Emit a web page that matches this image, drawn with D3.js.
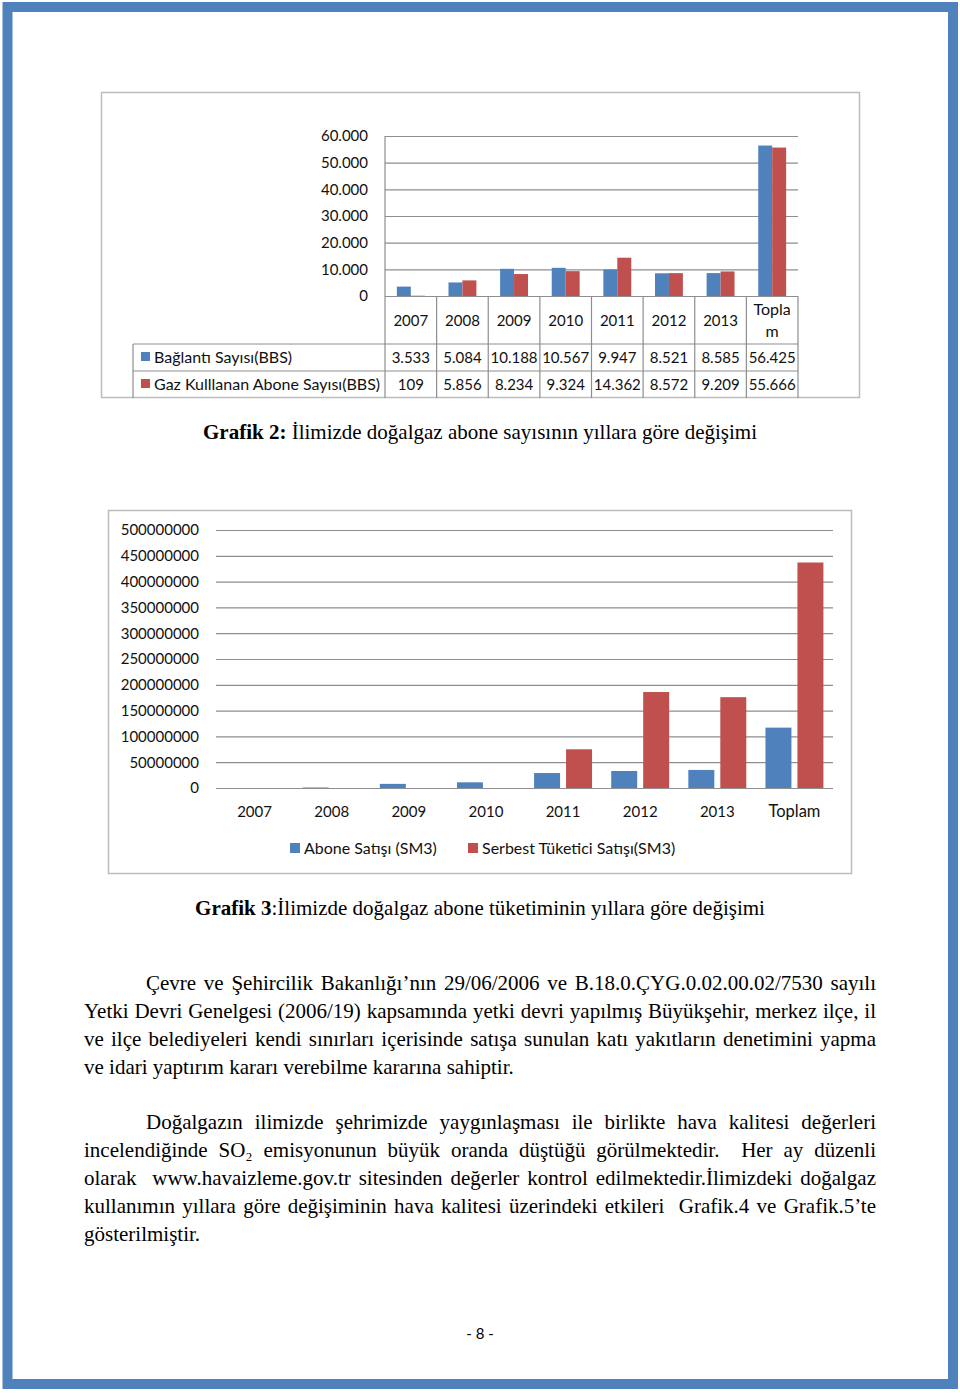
<!DOCTYPE html>
<html><head><meta charset="utf-8">
<script src="https://cdn.jsdelivr.net/npm/d3@7"></script>
<style>
body{margin:0;background:#fff}
svg{display:block}
.sans{font-family:Lato,"Open Sans",sans-serif}
.serif{font-family:"Liberation Serif","Times New Roman",serif}
</style></head>
<body>
<svg id="page" width="960" height="1396"></svg>
<script>
// ---------- DATA ----------
const categories1 = ["2007","2008","2009","2010","2011","2012","2013","Toplam"];
const seriesNames1 = ["Bağlantı Sayısı(BBS)","Gaz Kulllanan Abone Sayısı(BBS)"];
const baglantiSayisi = [3533,5084,10188,10567,9947,8521,8585,56425];
const gazKullananAbone = [109,5856,8234,9324,14362,8572,9209,55666];
const ticks1 = [0,10000,20000,30000,40000,50000,60000];

const categories2 = ["2007","2008","2009","2010","2011","2012","2013","Toplam"];
const seriesNames2 = ["Abone Satışı (SM3)","Serbest Tüketici Satışı(SM3)"];
const aboneSatisi = [0,1000000,8000000,11000000,29000000,33000000,35000000,117000000];
const serbestSatisi = [0,0,0,0,75000000,186000000,176000000,437000000];
const ticks2 = [0,50000000,100000000,150000000,200000000,250000000,300000000,350000000,400000000,450000000,500000000];

const caption1Bold = "Grafik 2:";
const caption1Rest = " İlimizde doğalgaz abone sayısının yıllara göre değişimi";
const caption2Bold = "Grafik 3";
const caption2Rest = ":İlimizde doğalgaz abone tüketiminin yıllara göre değişimi";

const para1 = [
 "Çevre ve Şehircilik Bakanlığı’nın 29/06/2006 ve B.18.0.ÇYG.0.02.00.02/7530 sayılı",
 "Yetki Devri Genelgesi (2006/19) kapsamında yetki devri yapılmış Büyükşehir, merkez ilçe, il",
 "ve ilçe belediyeleri kendi sınırları içerisinde satışa sunulan katı yakıtların denetimini yapma",
 "ve idari yaptırım kararı verebilme kararına sahiptir."
];
const para2 = [
 "Doğalgazın ilimizde şehrimizde yaygınlaşması ile birlikte hava kalitesi değerleri",
 "incelendiğinde SO₂ emisyonunun büyük oranda düştüğü görülmektedir.  Her ay düzenli",
 "olarak  www.havaizleme.gov.tr sitesinden değerler kontrol edilmektedir.İlimizdeki doğalgaz",
 "kullanımın yıllara göre değişiminin hava kalitesi üzerindeki etkileri  Grafik.4 ve Grafik.5’te",
 "gösterilmiştir."
];
const pageNumber = "- 8 -";

// ---------- STYLE ----------
const BLUE = "#4F81BD", RED = "#C0504D", GRID = "#8E8E8E", BOX = "#BDBDBD", TXT = "#111";
const svg = d3.select("#page");
const trFmt = d3.formatLocale({decimal:",", thousands:".", grouping:[3], currency:["",""]}).format(",d");

// page frame
svg.append("rect").attr("x",7.5).attr("y",7).attr("width",945.5).attr("height",1377)
  .attr("fill","none").attr("stroke",BLUE).attr("stroke-width",10);

// ================= CHART 1 =================
(function(){
  const g = svg.append("g");
  g.append("rect").attr("x",101.5).attr("y",92.5).attr("width",758).attr("height",305)
    .attr("fill","#fff").attr("stroke",BOX).attr("stroke-width",1.5);

  const x = d3.scaleBand().domain(categories1).range([385,798]);
  const y = d3.scaleLinear().domain([0,60000]).range([296,136]);
  const sub = d3.scaleBand().domain([0,1]).range([0,x.bandwidth()]).paddingOuter(0.85);

  const ax = g.append("g").attr("transform","translate(385,0)")
    .call(d3.axisLeft(y).tickValues(ticks1).tickFormat(trFmt).tickSizeInner(-(798-385)).tickSizeOuter(0).tickPadding(17));
  ax.select(".domain").remove();
  ax.selectAll(".tick line").attr("stroke",GRID).attr("stroke-width",1.2);
  ax.selectAll(".tick text").attr("class","sans").attr("font-size",15).attr("fill",TXT);

  g.append("line").attr("x1",385).attr("x2",385).attr("y1",136).attr("y2",398).attr("stroke",GRID).attr("stroke-width",1.2);

  const vals = [baglantiSayisi, gazKullananAbone];
  const cols = [BLUE, RED];
  vals.forEach((arr,si)=>{
    g.append("g").selectAll("rect").data(arr).join("rect")
      .attr("x",(d,i)=>x(categories1[i])+sub(si))
      .attr("width",sub.bandwidth())
      .attr("y",d=>y(d)).attr("height",d=>y(0)-y(d))
      .attr("fill",cols[si]);
  });

  const tl = g.append("g").attr("stroke",GRID).attr("stroke-width",1.2);
  categories1.forEach(c=>{
    tl.append("line").attr("x1",x(c)+x.bandwidth()).attr("x2",x(c)+x.bandwidth()).attr("y1",296).attr("y2",398);
  });
  tl.append("line").attr("x1",133).attr("x2",798).attr("y1",344).attr("y2",344);
  tl.append("line").attr("x1",133).attr("x2",798).attr("y1",371).attr("y2",371);
  tl.append("line").attr("x1",133).attr("x2",133).attr("y1",344).attr("y2",398);

  const lab = g.append("g").attr("class","sans").attr("font-size",15).attr("fill",TXT).attr("text-anchor","middle");
  categories1.forEach(c=>{
    const cx = x(c)+x.bandwidth()/2;
    if (c==="Toplam"){
      lab.append("text").attr("x",cx).attr("y",315).attr("font-size",16).text("Topla");
      lab.append("text").attr("x",cx).attr("y",337).attr("font-size",16).text("m");
    } else {
      lab.append("text").attr("x",cx).attr("y",326).text(c);
    }
  });
  const rowY = [363, 390];
  vals.forEach((arr,si)=>{
    g.append("rect").attr("x",141).attr("y",rowY[si]-11).attr("width",9).attr("height",9).attr("fill",cols[si]);
    g.append("text").attr("class","sans").attr("font-size",16).attr("fill",TXT)
      .attr("x",154).attr("y",rowY[si]).text(seriesNames1[si]);
    g.append("g").attr("class","sans").attr("font-size",15).attr("fill",TXT).attr("text-anchor","middle")
      .selectAll("text").data(arr).join("text")
      .attr("x",(d,i)=>x(categories1[i])+x.bandwidth()/2).attr("y",rowY[si])
      .text(d=>trFmt(d));
  });
})();

function caption(yb, bold, rest){
  const t = svg.append("text").attr("class","serif").attr("font-size",21).attr("fill","#000")
    .attr("x",480).attr("y",yb).attr("text-anchor","middle");
  t.append("tspan").attr("font-weight","bold").text(bold);
  t.append("tspan").text(rest);
}
caption(439, caption1Bold, caption1Rest);

// ================= CHART 2 =================
(function(){
  const g = svg.append("g");
  g.append("rect").attr("x",108.5).attr("y",510.5).attr("width",743).attr("height",363)
    .attr("fill","#fff").attr("stroke",BOX).attr("stroke-width",1.5);

  const x = d3.scaleBand().domain(categories2).range([216,833]);
  const y = d3.scaleLinear().domain([0,500000000]).range([788,530]);
  const sub = d3.scaleBand().domain([0,1]).range([0,x.bandwidth()]).paddingInner(0.1875).paddingOuter(0.3);

  const ax = g.append("g").attr("transform","translate(216,0)")
    .call(d3.axisLeft(y).tickValues(ticks2).tickFormat(d3.format("d")).tickSizeInner(-(833-216)).tickSizeOuter(0).tickPadding(17));
  ax.select(".domain").remove();
  ax.selectAll(".tick line").attr("stroke",GRID).attr("stroke-width",1.2);
  ax.selectAll(".tick text").attr("class","sans").attr("font-size",15).attr("fill",TXT);

  const vals = [aboneSatisi, serbestSatisi];
  const cols = [BLUE, RED];
  vals.forEach((arr,si)=>{
    g.append("g").selectAll("rect").data(arr).join("rect")
      .attr("x",(d,i)=>x(categories2[i])+sub(si))
      .attr("width",sub.bandwidth())
      .attr("y",d=>y(d)).attr("height",d=>y(0)-y(d))
      .attr("fill",cols[si]);
  });

  g.append("g").attr("class","sans").attr("font-size",15).attr("fill",TXT).attr("text-anchor","middle")
    .selectAll("text").data(categories2).join("text")
    .attr("x",d=>x(d)+x.bandwidth()/2).attr("y",817)
    .attr("font-size",d=>isNaN(+d)?16.5:15).text(d=>d);

  const lx = [290, 468];
  seriesNames2.forEach((n,si)=>{
    g.append("rect").attr("x",lx[si]).attr("y",843).attr("width",10).attr("height",10).attr("fill",cols[si]);
    g.append("text").attr("class","sans").attr("font-size",16).attr("fill",TXT)
      .attr("x",lx[si]+14).attr("y",854).text(n);
  });
})();

caption(915, caption2Bold, caption2Rest);

// ================= PARAGRAPHS =================
function paragraph(lines, y0){
  const L = 84, R = 876, indent = 146, lh = 28;
  lines.forEach((ln,i)=>{
    const xs = i===0 ? indent : L;
    const t = svg.append("text").attr("class","serif").attr("font-size",21).attr("fill","#000")
      .attr("x",xs).attr("y",y0+i*lh).style("white-space","pre").text(ln);
    if (i < lines.length-1){
      const w = t.node().getComputedTextLength();
      const spaces = (ln.match(/ /g)||[]).length;
      if (spaces>0) t.attr("word-spacing",(R-xs-w)/spaces);
    }
  });
}
paragraph(para1, 990);
paragraph(para2, 1129);

svg.append("text").attr("class","sans").attr("font-size",15).attr("fill","#000")
  .attr("x",480).attr("y",1339).attr("text-anchor","middle").style("white-space","pre").text(pageNumber);
</script>
</body></html>
